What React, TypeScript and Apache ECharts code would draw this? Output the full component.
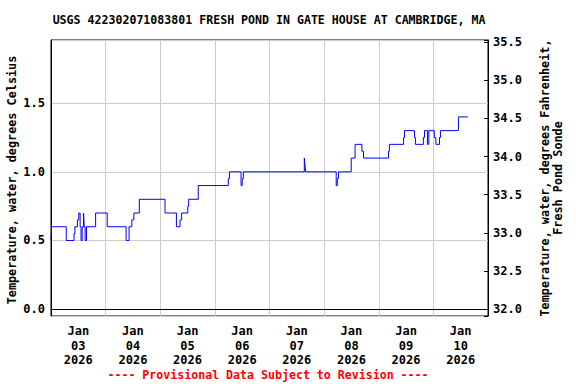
import React, { useEffect, useRef } from "react";
import * as echarts from "echarts";

const TITLE = "USGS 422302071083801 FRESH POND IN GATE HOUSE AT CAMBRIDGE, MA";
const FOOTER = "---- Provisional Data Subject to Revision ----";
const LEFT_NAME = "Temperature, water, degrees Celsius";
const RIGHT_NAME = "Temperature, water, degrees Fahrenheit,\nFresh Pond Sonde";
const MONTH = "Jan";
const YEAR = "2026";
const DAY_LABELS = ["03", "04", "05", "06", "07", "08", "09", "10"];

// hours since 2026-01-03 00:00 at which the reading changes
const HOURS = [
  0, 0.25, 6.7, 10.1, 10.5, 11.6, 12.2, 12.8, 13.2, 13.7, 14.3, 14.6, 15.0, 15.6,
  19.6, 24.7, 33.0, 34.3, 35.5, 36.4, 38.8, 50.1, 55.1, 56.7, 57.4, 60.1, 60.5,
  64.7, 77.9, 78.4, 83.5, 84.0, 84.5, 111.3, 111.6, 111.9, 125.3, 125.8, 126.3,
  131.9, 133.6, 136.6, 137.3, 148.3, 148.7, 154.9, 155.3, 159.7, 160.1, 163.6,
  164.1, 165.4, 166.0, 168.4, 169.1, 170.7, 171.1, 179.0, 183.2,
];
// water temperature, degrees Celsius
const TEMPS_C = [
  0.5, 0.6, 0.5, 0.55, 0.6, 0.65, 0.7, 0.6, 0.5, 0.6, 0.7, 0.6, 0.5, 0.6,
  0.7, 0.6, 0.5, 0.6, 0.65, 0.7, 0.8, 0.7, 0.6, 0.65, 0.7, 0.75, 0.8,
  0.9, 0.95, 1.0, 0.9, 0.95, 1.0, 1.1, 1.05, 1.0, 0.9, 0.95, 1.0,
  1.1, 1.2, 1.15, 1.1, 1.15, 1.2, 1.25, 1.3, 1.25, 1.2, 1.25,
  1.3, 1.2, 1.3, 1.25, 1.2, 1.25, 1.3, 1.4, 1.4,
];

const C_MIN = -0.05;
const C_MAX = 1.96;
const X_MAX_HOURS = 192;

const FONT = "'DejaVu Sans Mono', monospace";

export default function App() {
  const ref = useRef<HTMLDivElement>(null);

  useEffect(() => {
    if (!ref.current) return;
    const chart = echarts.init(ref.current, undefined, { renderer: "svg" });
    const data = HOURS.map((h, i) => [h, TEMPS_C[i]]);
    const labelStyle = {
      fontFamily: FONT,
      fontWeight: "bold" as const,
      fontSize: 12,
      color: "#000",
    };
    const halfStep = (v: number) => Math.abs(v * 2 - Math.round(v * 2)) < 1e-6;

    chart.setOption({
      animation: false,
      backgroundColor: "#fff",
      grid: {
        left: 51,
        right: 88,
        top: 40,
        bottom: 68,
        show: true,
        borderColor: "#000",
        borderWidth: 1,
        backgroundColor: "transparent",
      },
      xAxis: {
        type: "value",
        min: 0,
        max: X_MAX_HOURS,
        interval: 12,
        axisLine: { show: true, lineStyle: { color: "#000", width: 1 } },
        axisTick: { show: false },
        splitLine: {
          show: true,
          lineStyle: { color: ["#cccccc", "rgba(0,0,0,0)"], width: 1 },
        },
        axisLabel: {
          ...labelStyle,
          lineHeight: 14.5,
          margin: 8,
          formatter: (v: number) => {
            const h = Math.round(v);
            if (h % 24 === 12) {
              const i = (h - 12) / 24;
              return `${MONTH}\n${DAY_LABELS[i]}\n${YEAR}`;
            }
            return "";
          },
        },
      },
      yAxis: [
        {
          type: "value",
          position: "left",
          min: C_MIN,
          max: C_MAX,
          splitNumber: 4,
          axisLine: { show: true, lineStyle: { color: "#000", width: 1 } },
          axisTick: { show: false },
          splitLine: { show: true, lineStyle: { color: "#cccccc", width: 1 } },
          axisLabel: {
            ...labelStyle,
            margin: 6,
            formatter: (v: number) => (halfStep(v) ? v.toFixed(1) : ""),
          },
        },
        {
          type: "value",
          position: "right",
          min: 32 + C_MIN * 1.8,
          max: 32 + C_MAX * 1.8,
          splitNumber: 7,
          axisLine: { show: true, lineStyle: { color: "#000", width: 1 } },
          axisTick: {
            show: true,
            inside: true,
            length: 4,
            lineStyle: { color: "#000", width: 1 },
          },
          splitLine: { show: false },
          axisLabel: {
            ...labelStyle,
            margin: 5,
            formatter: (v: number) => (halfStep(v) ? v.toFixed(1) : ""),
          },
        },
      ],
      series: [
        {
          type: "line",
          data,
          step: "end",
          showSymbol: false,
          symbol: "none",
          yAxisIndex: 0,
          lineStyle: { color: "#0000ff", width: 1 },
          silent: true,
        },
      ],
      graphic: [
        {
          type: "text",
          x: 269,
          y: 20,
          style: {
            text: TITLE,
            font: `bold 11.6px ${FONT}`,
            fill: "#000",
            align: "center",
            verticalAlign: "middle",
          },
        },
        {
          type: "text",
          x: 268,
          y: 375,
          style: {
            text: FOOTER,
            font: `bold 11.6px ${FONT}`,
            fill: "#ff0000",
            align: "center",
            verticalAlign: "middle",
          },
        },
        {
          type: "text",
          x: 12,
          y: 180,
          rotation: Math.PI / 2,
          style: {
            text: LEFT_NAME,
            font: `bold 11.8px ${FONT}`,
            fill: "#000",
            align: "center",
            verticalAlign: "middle",
          },
        },
        {
          type: "text",
          x: 551,
          y: 178,
          rotation: Math.PI / 2,
          style: {
            text: RIGHT_NAME,
            font: `bold 11.8px ${FONT}`,
            fill: "#000",
            align: "center",
            verticalAlign: "middle",
            lineHeight: 13,
          },
        },
      ],
    });

    return () => chart.dispose();
  }, []);

  return (
    <div
      ref={ref}
      style={{ position: "fixed", left: 0, top: 0, width: 576, height: 384 }}
    />
  );
}
